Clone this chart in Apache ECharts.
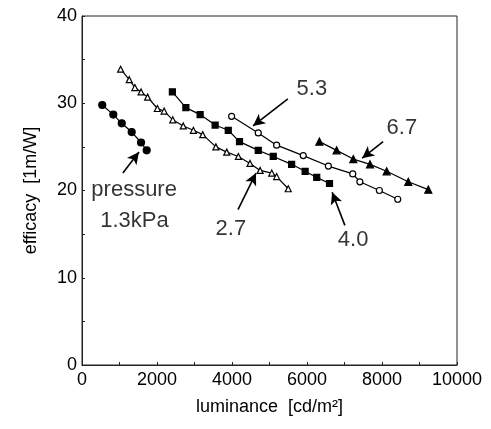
<!DOCTYPE html>
<html><head><meta charset="utf-8">
<script src="https://cdn.jsdelivr.net/npm/echarts@6/dist/echarts.min.js"></script>
<style>html,body{margin:0;padding:0;background:#fff}#c{width:491px;height:429px}</style>
</head><body><div id="c"></div>
<script>
var p13X = [540, 835, 1060, 1325, 1575, 1725];
var p13Y = [29.8, 28.7, 27.7, 26.7, 25.5, 24.6];
var p27X = [1030, 1260, 1410, 1575, 1750, 2010, 2190, 2420, 2700, 2970, 3220, 3570, 3860, 4170, 4480, 4750, 5060, 5190, 5500];
var p27Y = [33.9, 32.7, 31.8, 31.3, 30.7, 29.4, 29.1, 28.1, 27.4, 26.9, 26.4, 25.0, 24.4, 23.9, 23.1, 22.3, 22.0, 21.6, 20.2];
var p40X = [2410, 2770, 3150, 3550, 3900, 4200, 4700, 5100, 5590, 5950, 6260, 6600];
var p40Y = [31.3, 29.5, 28.7, 27.5, 26.9, 25.6, 24.6, 23.9, 23.0, 22.2, 21.5, 20.8];
var p53X = [3990, 4700, 5190, 5900, 6570, 7220, 7410, 7930, 8420];
var p53Y = [28.5, 26.6, 25.2, 24.0, 22.8, 21.9, 21.0, 20.0, 19.0];
var p67X = [6330, 6790, 7235, 7680, 8125, 8700, 9235];
var p67Y = [25.6, 24.6, 23.6, 23.0, 22.2, 21.0, 20.1];

var noteText = ['5.3', '6.7', 'pressure', '1.3kPa', '2.7', '4.0'];
var noteX = [6130, 8530, 1390, 1400, 3970, 7230];
var noteY = [31.6, 27.2, 20.1, 16.5, 15.6, 14.3];

var arrowFromX = [1090, 4160, 7010, 5490, 8030];
var arrowFromY = [22.0, 17.8, 16.0, 30.5, 25.6];
var arrowToX = [1520, 4640, 6670, 4560, 7470];
var arrowToY = [24.4, 22.0, 19.8, 27.4, 23.7];

function zip(a, b) { return a.map(function (v, i) { return [v, b[i]]; }); }

var FONT = 'Liberation Sans';
function lineSeries(name, xs, ys, symbol, size, filled) {
  return {
    name: name, type: 'line', data: zip(xs, ys),
    symbol: symbol, symbolSize: size, showAllSymbol: true,
    lineStyle: { color: '#000', width: 1.2 },
    itemStyle: { color: filled ? '#000' : '#fff', borderColor: '#000', borderWidth: 1.2 },
    z: 3
  };
}

var arrows = arrowFromX.map(function (x, i) {
  return [{ coord: [x, arrowFromY[i]] }, { coord: [arrowToX[i], arrowToY[i]] }];
});

var chart = echarts.init(document.getElementById('c'), null, { renderer: 'canvas' });
chart.setOption({
  animation: false,
  backgroundColor: '#fff',
  grid: { left: 82, top: 16, right: 34, bottom: 64, show: true, borderColor: '#222', borderWidth: 1 },
  xAxis: {
    type: 'value', min: 0, max: 10000, interval: 2000,
    name: 'luminance  [cd/m\u00B2]', nameLocation: 'middle', nameGap: 33,
    nameTextStyle: { fontFamily: FONT, fontSize: 18, color: '#000' },
    axisLine: { lineStyle: { color: '#222', width: 1 } },
    axisTick: { inside: true, length: 3, lineStyle: { color: '#222' } },
    minorTick: { show: true, splitNumber: 2, length: 3, lineStyle: { color: '#222' } },
    axisLabel: { fontFamily: FONT, fontSize: 18, color: '#000', margin: 6, formatter: function (v) { return String(v); } },
    splitLine: { show: false }
  },
  yAxis: {
    type: 'value', min: 0, max: 40, interval: 10,
    name: 'efficacy  [1m/W]', nameLocation: 'middle', nameGap: 42, nameRotate: 90,
    nameTextStyle: { fontFamily: FONT, fontSize: 18, color: '#000' },
    axisLine: { show: true, lineStyle: { color: '#222', width: 1 } },
    axisTick: { show: true, inside: true, length: 3, lineStyle: { color: '#222' } },
    minorTick: { show: true, splitNumber: 2, length: 3, lineStyle: { color: '#222' } },
    axisLabel: { fontFamily: FONT, fontSize: 18, color: '#000', margin: 5 },
    splitLine: { show: false }
  },
  series: [
    lineSeries('1.3kPa', p13X, p13Y, 'circle', 7, true),
    lineSeries('2.7', p27X, p27Y, 'triangle', 6, false),
    lineSeries('4.0', p40X, p40Y, 'rect', 6, true),
    lineSeries('5.3', p53X, p53Y, 'circle', 6, false),
    lineSeries('6.7', p67X, p67Y, 'triangle', 7, true),
    {
      name: 'notes', type: 'scatter', symbolSize: 0,
      data: noteText.map(function (t, i) { return { name: t, value: [noteX[i], noteY[i]] }; }),
      label: { show: true, position: 'inside', formatter: '{b}', fontFamily: FONT, fontSize: 22, color: '#000' },
      silent: true, z: 5,
      markLine: {
        silent: true, symbol: ['none', 'arrow'], symbolSize: [9, 12],
        lineStyle: { color: '#000', width: 1.6, type: 'solid' },
        label: { show: false },
        data: arrows
      }
    }
  ]
});
</script></body></html>
